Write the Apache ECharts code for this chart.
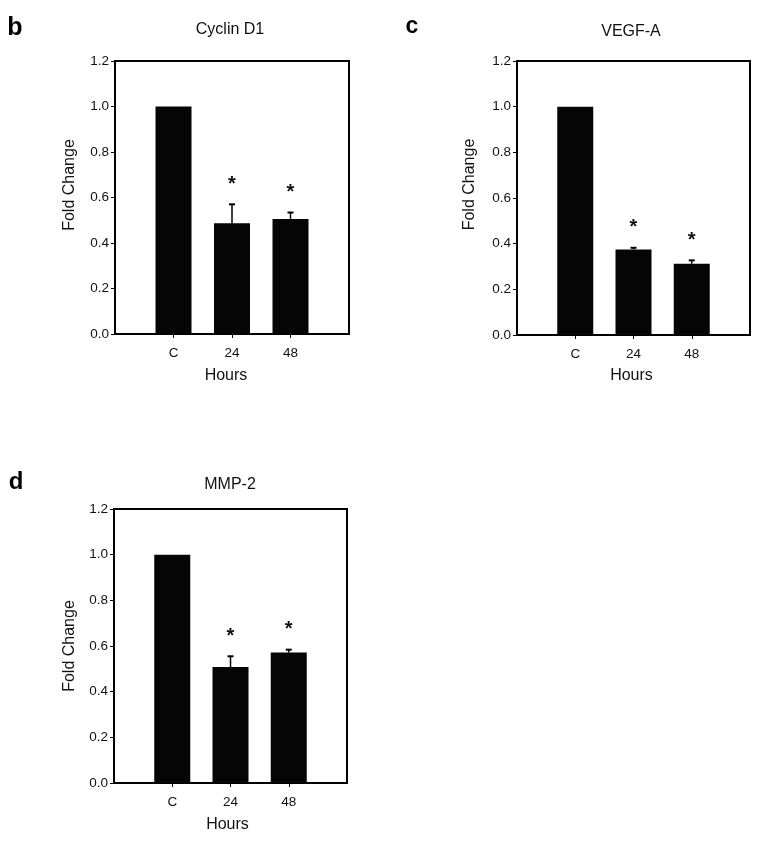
<!DOCTYPE html>
<html>
<head>
<meta charset="utf-8">
<script src="https://cdn.jsdelivr.net/npm/echarts@6/dist/echarts.min.js"></script>
<style>
html,body{margin:0;padding:0;background:#fff;}
#chart{width:757px;height:841px;}
</style>
</head>
<body>
<div id="chart"></div>
<script>
// ---- data ----
const categories = ['C', '24', '48'];
const cyclinD1 = [1.0, 0.487, 0.506];
const cyclinD1Err = [0, 0.083, 0.028];
const vegfA = [1.0, 0.375, 0.312];
const vegfAErr = [0, 0.007, 0.015];
const mmp2 = [1.0, 0.508, 0.572];
const mmp2Err = [0, 0.047, 0.012];
const significant = [false, true, true];
const yMin = 0, yMax = 1.2, yStep = 0.2;

const FONT = 'Liberation Sans, Arial, sans-serif';
const INK = '#111';

const panels = [
  { letter: 'b', title: 'Cyclin D1', values: cyclinD1, err: cyclinD1Err,
    grid: { left: 115, top: 61, width: 234, height: 273 },
    letterPos: [15, 28, 25], titlePos: [230, 29.7],
    yNamePad: [0, 0, 0, 25], yNameGap: 37, xNamePad: [0, 12, 0, 0], xNameGap: 34 },
  { letter: 'c', title: 'VEGF-A', values: vegfA, err: vegfAErr,
    grid: { left: 517, top: 61, width: 233, height: 274 },
    letterPos: [412, 27, 23], titlePos: [631, 31.4],
    yNamePad: [0, 0, 0, 27], yNameGap: 39, xNamePad: [0, 4, 0, 0], xNameGap: 33 },
  { letter: 'd', title: 'MMP-2', values: mmp2, err: mmp2Err,
    grid: { left: 114, top: 509, width: 233, height: 274 },
    letterPos: [16, 482, 24], titlePos: [230, 484.7],
    yNamePad: [6, 0, 0, 0], yNameGap: 36, xNamePad: [0, 6, 0, 0], xNameGap: 34 }
];

const axisCats = [''].concat(categories, ['']);

const option = {
  animation: false,
  backgroundColor: '#fff',
  textStyle: { fontFamily: FONT },
  grid: [], xAxis: [], yAxis: [], series: [], graphic: []
};

panels.forEach((p, gi) => {
  option.grid.push(Object.assign({ show: true, borderColor: '#000', borderWidth: 2, backgroundColor: 'transparent' }, p.grid));
  option.xAxis.push({
    type: 'category', gridIndex: gi, data: axisCats, boundaryGap: false,
    name: 'Hours', nameLocation: 'middle', nameGap: p.xNameGap,
    nameTextStyle: { fontSize: 16, color: INK, fontFamily: FONT, padding: p.xNamePad },
    axisLine: { lineStyle: { color: '#000', width: 2 } },
    axisTick: { show: true, length: 4, lineStyle: { color: '#000', width: 1 }, interval: (i, v) => v !== '' },
    axisLabel: { interval: 0, fontSize: 13.5, color: INK, fontFamily: FONT, margin: 12 },
    splitLine: { show: false }
  });
  option.yAxis.push({
    type: 'value', gridIndex: gi, min: yMin, max: yMax, interval: yStep,
    name: 'Fold Change', nameLocation: 'middle', nameGap: p.yNameGap,
    nameTextStyle: { fontSize: 16, color: INK, fontFamily: FONT, padding: p.yNamePad },
    axisLine: { show: true, lineStyle: { color: '#000', width: 2 } },
    axisTick: { show: true, length: 4, lineStyle: { color: '#000', width: 1 } },
    axisLabel: { fontSize: 13.5, color: INK, fontFamily: FONT, margin: 6, formatter: v => v.toFixed(1) },
    splitLine: { show: false }
  });
  option.series.push({
    type: 'bar', xAxisIndex: gi, yAxisIndex: gi, barWidth: 36,
    itemStyle: { color: '#050505' },
    data: ['-'].concat(p.values, ['-'])
  });
  option.series.push({
    type: 'custom', xAxisIndex: gi, yAxisIndex: gi, z: 5,
    data: p.values.map((v, k) => [k + 1, v, p.err[k], significant[k] ? 1 : 0]),
    renderItem: (params, api) => {
      const i = api.value(0), v = api.value(1), e = api.value(2), sig = api.value(3);
      const base = api.coord([i, v]);
      const top = api.coord([i, v + e]);
      const children = [];
      if (e > 0) {
        children.push({ type: 'line', shape: { x1: top[0], y1: base[1], x2: top[0], y2: top[1] }, style: { stroke: '#000', lineWidth: 1.5 } });
        children.push({ type: 'line', shape: { x1: top[0] - 3, y1: top[1], x2: top[0] + 3, y2: top[1] }, style: { stroke: '#000', lineWidth: 2 } });
      }
      if (sig) {
        children.push({ type: 'text', style: { text: '*', x: top[0], y: top[1] - 20, align: 'center', verticalAlign: 'middle', font: 'bold 20px ' + FONT, fill: INK } });
      }
      return { type: 'group', children };
    }
  });
  option.graphic.push({ type: 'text', style: { text: p.letter, x: p.letterPos[0], y: p.letterPos[1], align: 'center', verticalAlign: 'middle', font: 'bold ' + p.letterPos[2] + 'px ' + FONT, fill: '#000' } });
  option.graphic.push({ type: 'text', style: { text: p.title, x: p.titlePos[0], y: p.titlePos[1], align: 'center', verticalAlign: 'middle', font: '16px ' + FONT, fill: INK } });
});

const chart = echarts.init(document.getElementById('chart'), null, { renderer: 'canvas' });
chart.setOption(option);
</script>
</body>
</html>
